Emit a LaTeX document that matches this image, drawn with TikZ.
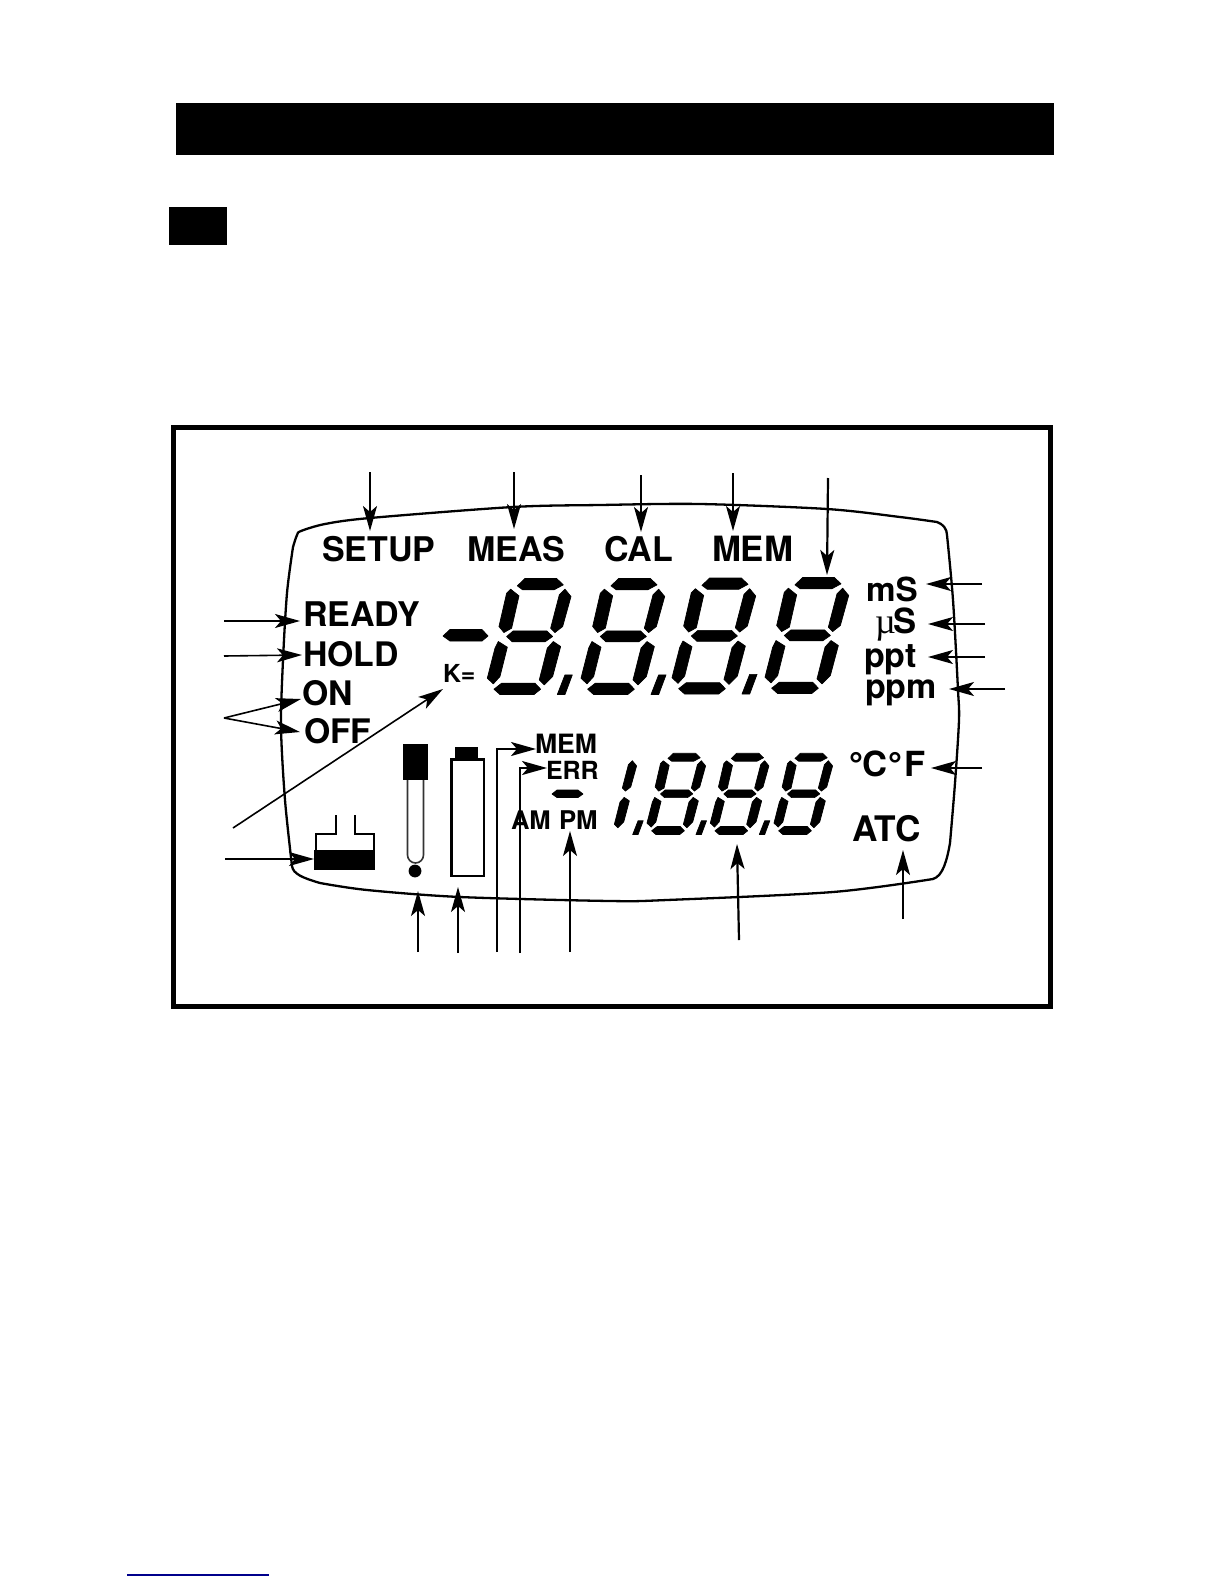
\documentclass[tikz,border=0pt]{standalone}
\usepackage{fontspec}
\setmainfont{TeX Gyre Heros}
\newfontfamily\serifmu{Liberation Serif}
\newfontfamily\degfont{Liberation Sans Bold}
\usetikzlibrary{arrows.meta}
\definecolor{linkblue}{HTML}{00008C}
\newcommand{\fsz}[1]{\fontsize{#1pt}{#1pt}\selectfont\bfseries}
\tikzset{
  lbl/.style={anchor=base west,inner sep=0pt,outer sep=0pt,text=black},
  conn/.style={line width=0.8pt,-{Stealth[length=12.5pt,width=7pt,inset=3pt]}},
  thickconn/.style={conn,line width=1.1pt},
  outline/.style={line width=1.15pt,line join=round},
  seg/.style={fill=black,draw=black,line width=0.35pt,line join=round},
}
% digit: local units are thirds of a pixel, origin at top segment's left
\newcommand{\lcdright}[3]{%
  \begin{scope}[shift={(#1,#2)},x=#3*0.1667pt,y=-#3*0.1667pt]
  \filldraw[seg] (143,32)--(161,54)--(136,144)--(113,162)--(100,149)--(126,49)--cycle;
  \filldraw[seg] (108,189)--(130,204)--(106,294)--(81,319)--(66,304)--(90,209)--cycle;
  \end{scope}}
\newcommand{\lcdcomma}[3]{%
  \begin{scope}[shift={(#1,#2)},x=#3*0.1667pt,y=-#3*0.1667pt]
  \filldraw[seg] (143,289)--(165,289)--(143,348)--(120,348)--cycle;
  \end{scope}}
\newcommand{\lcddigit}[3]{%
  \lcdright{#1}{#2}{#3}%
  \begin{scope}[shift={(#1,#2)},x=#3*0.1667pt,y=-#3*0.1667pt]
  \filldraw[seg] (0,22)--(23,0)--(118,0)--(138,19)--(110,34)--(16,34)--cycle;
  \filldraw[seg] (-20,32)--(5,52)--(-17,149)--(-40,162)--(-55,144)--(-32,44)--cycle;
  \filldraw[seg] (-32,174)--(-12,157)--(88,157)--(106,174)--(83,190)--(-15,190)--cycle;
  \filldraw[seg] (-57,189)--(-30,206)--(-52,294)--(-72,316)--(-90,299)--(-67,209)--cycle;
  \filldraw[seg] (-70,332)--(-47,314)--(53,314)--(70,332)--(50,348)--(-52,348)--cycle;
  \end{scope}}
\newcommand{\arr}[4][conn]{%
  \coordinate (#2s) at (#3); \coordinate (#2e) at (#4);
  \draw[#1] (#2s) -- (#2e);}
\begin{document}
\begin{tikzpicture}[x=0.5pt,y=-0.5pt]
\useasboundingbox (0,0) rectangle (1224,1584);
\fill[white] (0,0) rectangle (1224,1584);
% header bars
\fill[black] (176,103) rectangle (1054,155);
\fill[black] (169,207) rectangle (227,245);
% frame
\draw[line width=2.5pt] (173,427.5) rectangle (1050.5,1006.3);
% display outline
\draw[outline] plot[smooth,tension=0.5] coordinates {(293,547) (297,535) (301,531) (325,524) (370,518) (513,507) (600,505) (700,504) (827,509) (900,517) (937,522)}
  .. controls (943,524) and (947,529) .. (947,535)
  plot[smooth,tension=0.5] coordinates {(947,535) (953,600) (958,690) (959,720) (955,783) (950,843)}
  .. controls (947,860) and (943,876) .. (933,879)
  plot[smooth,tension=0.5] coordinates {(933,879) (833,892) (667,900) (610,901) (460,897) (367,890) (320,883)}
  .. controls (303,878) and (293,874) .. (292,866)
  plot[smooth,tension=0.5] coordinates {(292,866) (285,800) (281,727) (283,660) (287,593) (293,547)};
% big digits
\lcddigit{517.3}{578.5}{1}
\lcddigit{611}{578.5}{1}
\lcddigit{702}{578}{1}
\lcddigit{795}{577.5}{1}
\lcdcomma{517.3}{578.5}{1}
\lcdcomma{611}{578.5}{1}
\lcdcomma{702}{578}{1}
\filldraw[seg] (443,636)--(450,629.5)--(482,629.5)--(488,636)--(482,641)--(450,641)--cycle;
% small digits
\lcdright{599}{753.3}{0.7}
\lcddigit{668}{753.3}{0.7}
\lcddigit{731.3}{753.3}{0.7}
\lcddigit{795}{753.3}{0.7}
\lcdcomma{604.7}{753.3}{0.7}
\lcdcomma{668}{753.3}{0.7}
\lcdcomma{731.3}{753.3}{0.7}
\filldraw[seg] (552,794)--(557,790)--(578,790)--(583,794)--(578,797.5)--(557,797.5)--cycle;
% labels
\node[lbl] (setup) at (322,561.5) {\fsz{17}SETUP};
\node[lbl] (meas) at (467,561.5) {\fsz{17}MEAS};
\node[lbl] (cal) at (604,561.5) {\fsz{17}CAL};
\node[lbl] (memtop) at (712,561.5) {\fsz{17.4}MEM};
\node[lbl] (ready) at (303,626) {\fsz{17}READY};
\node[lbl] (hold) at (303,666) {\fsz{16.9}HOLD};
\node[lbl] (on) at (302,705) {\fsz{16.9}ON};
\node[lbl] (off) at (304,743) {\fsz{16.9}OFF};
\node[lbl] (k) at (443,682) {\fsz{12.4}K=};
\node[lbl] (memlow) at (535,753) {\fsz{13.3}MEM};
\node[lbl] (err) at (546,779) {\fsz{12.5}ERR};
\node[lbl] (am) at (511,829) {\fsz{12.8}AM};
\node[lbl] (pm) at (559,829) {\fsz{12.9}PM};
\node[lbl] (ms) at (866,601) {\fsz{16.6}mS};
\node[lbl] (mu) at (875,633) {\fontsize{18}{18}\serifmu µ};
\node[lbl] (us) at (893,633) {\fsz{17.3}S};
\node[lbl] (ppt) at (864,667) {\fsz{17}ppt};
\node[lbl] (ppm) at (865,698) {\fsz{17}ppm};
\node[lbl] (degc) at (849,776) {\fontsize{17.3}{17.3}\degfont °};
\node[lbl] (cc) at (862,776) {\fsz{17.3}C};
\node[lbl] (degf) at (888,776) {\fontsize{17.3}{17.3}\degfont °};
\node[lbl] (ff) at (904,776) {\fsz{17.3}F};
\node[lbl] (atc) at (852,841) {\fsz{17.6}ATC};
% beaker icon
\fill[black] (314,850) rectangle (375,870);
\draw[line width=1pt] (336,815) -- (336,834) -- (316,834) -- (316,850);
\draw[line width=1pt] (355,815) -- (355,834) -- (374,834) -- (374,850);
% probe icon
\fill[black] (403,744) rectangle (428,780);
\draw[line width=0.8pt,black!80] (407.5,780) -- (407.5,855) arc[start angle=180,end angle=360,x radius=8,y radius=-8] -- (423.5,780);
\fill[black] (415,871) circle[radius=6.4];
% battery icon
\fill[black] (455,747) rectangle (478,759);
\draw[line width=1.25pt] (451.5,759.5) rectangle (484,876);
% connectors
\arr{a1}{370,472}{370,531}
\arr[thickconn]{a2}{514,472}{514,529}
\arr{a3}{641,475}{641,532}
\arr{a4}{733,473}{733,531}
\arr[thickconn]{a5}{828,478}{827,575}
\arr[thickconn]{a6}{982,584}{926,584}
\arr{a7}{985,624}{928,624}
\arr{a8}{985,657}{928,657}
\arr{a9}{1005,689}{949,689}
\arr[thickconn]{a10}{982,768}{931,768}
\arr{a11}{903,919}{903,850}
\arr[thickconn]{a12}{739,940}{737,844}
\arr{a13}{570,952}{570,831}
\coordinate (b1s) at (520,953); \coordinate (b1m) at (520,768); \coordinate (b1e) at (547,768);
\draw[thickconn] (b1s) -- (b1m) -- (b1e);
\coordinate (b2s) at (497,952); \coordinate (b2m) at (497,749); \coordinate (b2e) at (536,749);
\draw[thickconn] (b2s) -- (b2m) -- (b2e);
\arr{a14}{458,953}{458,887}
\arr{a15}{418,952}{418,891}
\arr{a16}{225,859}{314,859}
\arr{a17}{233,828}{443,689}
\coordinate (c) at (224,718);
\coordinate (offp) at (300,732); \coordinate (onp) at (301,699);
\draw[conn] (c) -- (offp);
\draw[conn] (c) -- (onp);
\arr{a18}{224,656}{302,655}
\arr{a19}{224,621}{300,621}
% link underline
\draw[line width=0.75pt,linkblue] (127.3,1575) -- (268.7,1575);
\end{tikzpicture}
\end{document}
